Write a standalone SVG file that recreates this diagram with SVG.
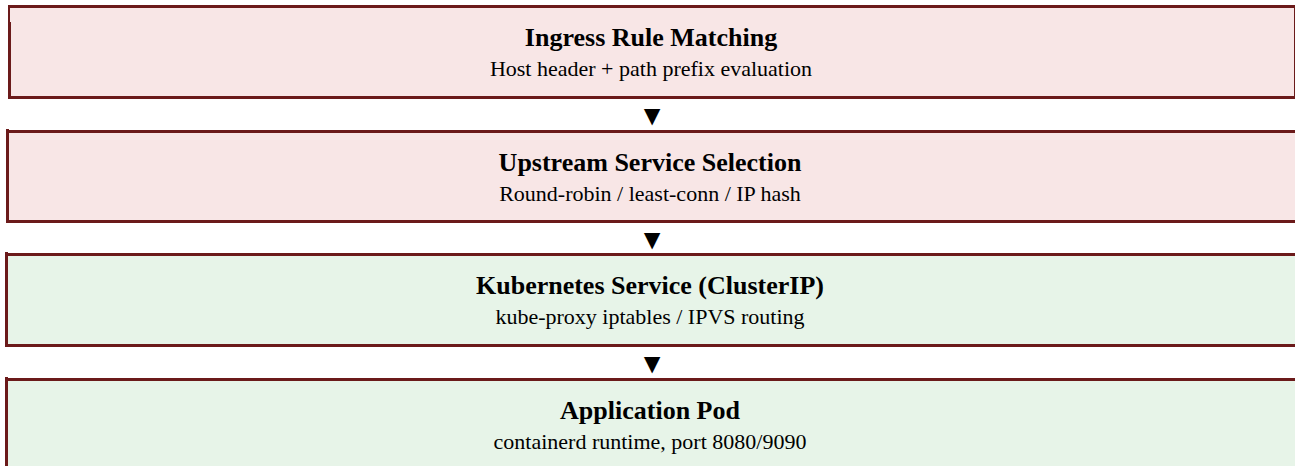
<svg xmlns="http://www.w3.org/2000/svg" width="1295" height="466" viewBox="0 0 1295 466">
  <style>
    .edge { fill: #6b1a1a; }
    .warm { fill: #f8e6e6; }
    .cool { fill: #e7f4e8; }
    .title { font-family: "Liberation Serif", "Times New Roman", serif; font-size: 26px; font-weight: bold; fill: #000; text-anchor: middle; }
    .sub { font-family: "Liberation Serif", "Times New Roman", serif; font-size: 22px; fill: #000; text-anchor: middle; }
    .arrow { font-family: "Liberation Serif", "DejaVu Sans", serif; font-size: 28px; fill: #000; text-anchor: middle; }
  </style>
  <rect width="1295" height="466" fill="#ffffff"/>

  <g id="ingress-rule-matching">
    <rect class="warm" x="8" y="5" width="1287" height="94"/>
    <rect class="edge" x="8" y="5" width="1287" height="3"/>
    <rect class="edge" x="8" y="96" width="1287" height="3"/>
    <rect class="edge" x="8" y="5" width="2" height="18"/>
    <rect class="edge" x="8" y="22" width="3" height="77"/>
    <rect class="edge" x="1294" y="5" width="1" height="94"/>
    <text class="title" x="651" y="46">Ingress Rule Matching</text>
    <text class="sub" x="651" y="76">Host header + path prefix evaluation</text>
  </g>

  <g id="upstream-service-selection">
    <rect class="warm" x="6" y="130" width="1289" height="93"/>
    <rect class="edge" x="6" y="130" width="1289" height="3"/>
    <rect class="edge" x="6" y="220" width="1289" height="3"/>
    <rect class="edge" x="6" y="129" width="3" height="94"/>
    <text class="title" x="650" y="171">Upstream Service Selection</text>
    <text class="sub" x="650" y="201">Round-robin / least-conn / IP hash</text>
  </g>

  <g id="kubernetes-service">
    <rect class="cool" x="5" y="253" width="1290" height="94"/>
    <rect class="edge" x="5" y="253" width="1290" height="3"/>
    <rect class="edge" x="5" y="344" width="1290" height="3"/>
    <rect class="edge" x="5" y="252" width="3" height="95"/>
    <text class="title" x="650" y="294">Kubernetes Service (ClusterIP)</text>
    <text class="sub" x="650" y="324">kube-proxy iptables / IPVS routing</text>
  </g>

  <g id="application-pod">
    <rect class="cool" x="5" y="378" width="1290" height="88"/>
    <rect class="edge" x="5" y="378" width="1290" height="3"/>
    <rect class="edge" x="5" y="377" width="3" height="89"/>
    <text class="title" x="650" y="419">Application Pod</text>
    <text class="sub" x="650" y="449">containerd runtime, port 8080/9090</text>
  </g>

  <g id="connectors">
    <text class="arrow" x="652" y="125">▼</text>
    <text class="arrow" x="652" y="249">▼</text>
    <text class="arrow" x="652" y="373">▼</text>
  </g>
</svg>
